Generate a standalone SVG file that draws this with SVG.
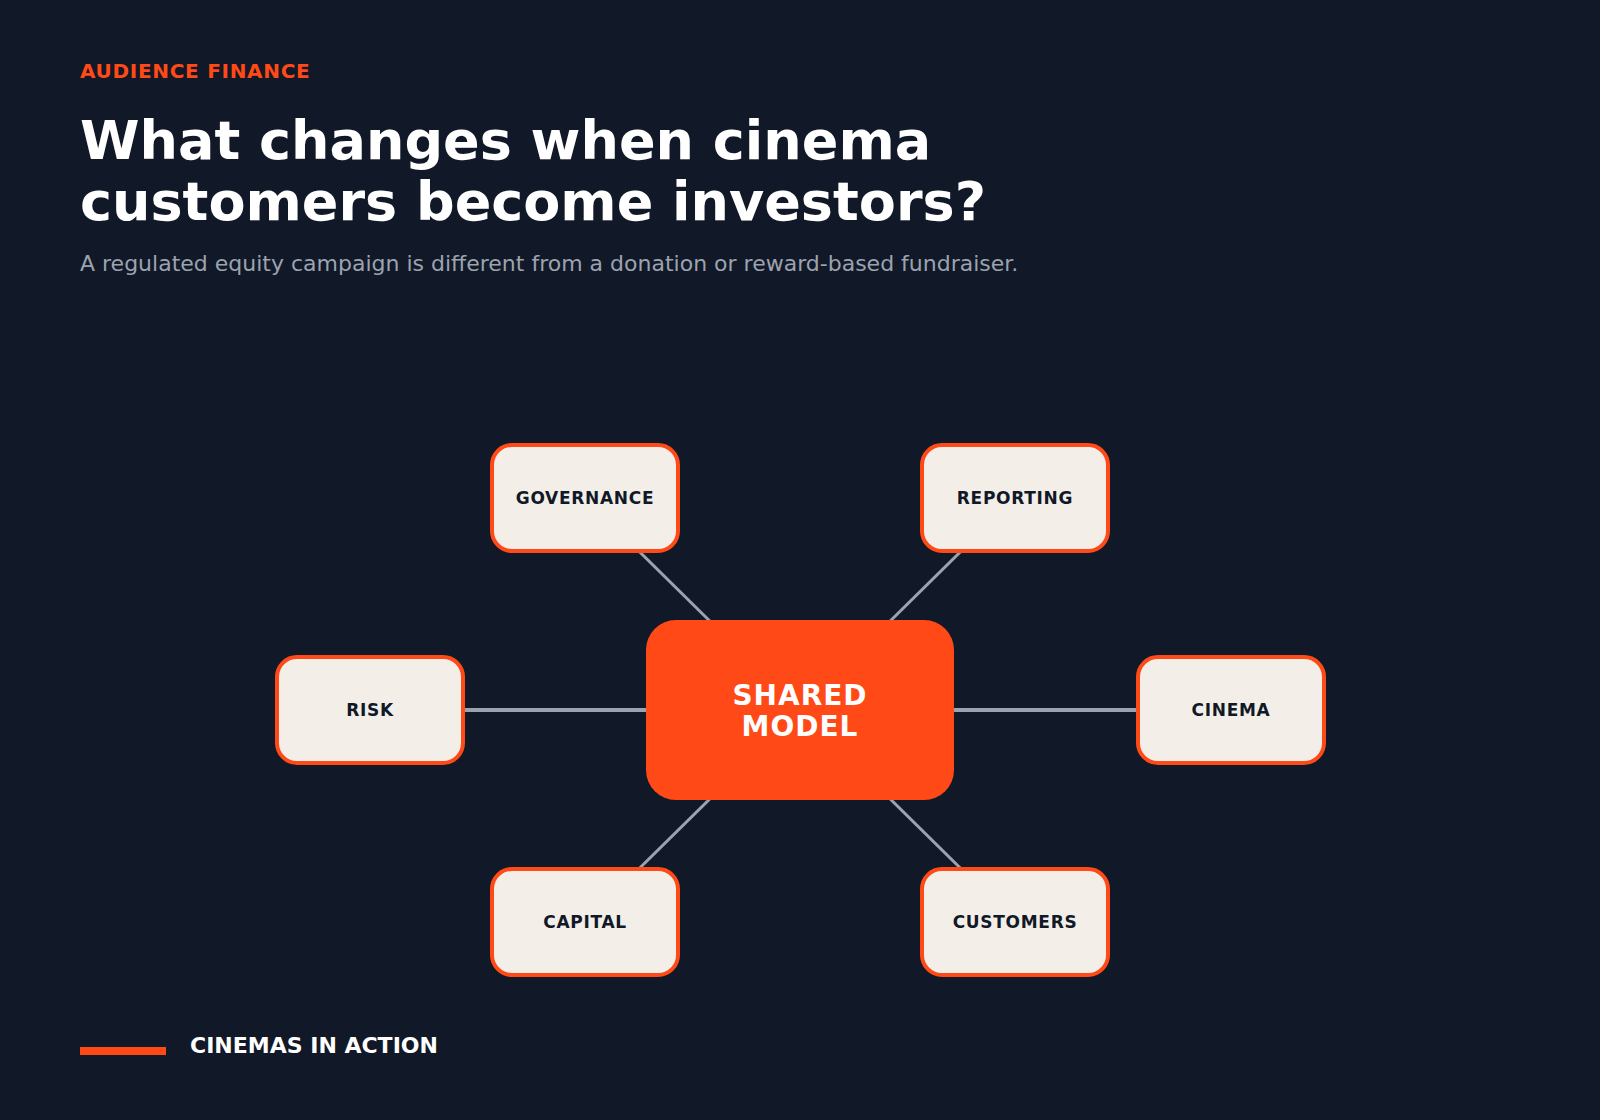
<svg xmlns="http://www.w3.org/2000/svg" width="1600" height="1120" viewBox="0 0 1600 1120">
  <defs>
    <style>
      .bg { fill: #111827; }
      .kicker { font-family: "DejaVu Sans", sans-serif; font-weight: bold; font-size: 20px; fill: #FF4A17; letter-spacing: 0.7px; }
      .title { font-family: "DejaVu Sans", sans-serif; font-weight: bold; font-size: 54px; fill: #FFFFFF; }
      .sub { font-family: "DejaVu Sans", sans-serif; font-size: 22px; fill: #9CA3AF; }
      .edge { stroke: #9CA3AF; stroke-width: 3; fill: none; }
      .edge.h { stroke-width: 4; }
      .node rect { fill: #F3EFE8; stroke: #FF4A17; stroke-width: 4; }
      .node text { font-family: "DejaVu Sans", sans-serif; font-weight: bold; font-size: 17px; fill: #111827; letter-spacing: 0.7px; text-anchor: middle; }
      .hub rect { fill: #FF4A17; }
      .hub text { font-family: "DejaVu Sans", sans-serif; font-weight: bold; font-size: 28px; fill: #FFFFFF; letter-spacing: 1px; text-anchor: middle; }
      .footer { font-family: "DejaVu Sans", sans-serif; font-weight: bold; font-size: 22px; fill: #FFFFFF; }
    </style>
  </defs>
  <rect class="bg" x="0" y="0" width="1600" height="1120"/>

  <text class="kicker" x="80" y="78">AUDIENCE FINANCE</text>
  <text class="title" x="80" y="159">What changes when cinema</text>
  <text class="title" x="80" y="220">customers become investors?</text>
  <text class="sub" x="80" y="271">A regulated equity campaign is different from a donation or reward-based fundraiser.</text>

  <g id="connectors">
    <line class="edge" x1="800" y1="710" x2="585" y2="498"/>
    <line class="edge" x1="800" y1="710" x2="1015" y2="498"/>
    <line class="edge h" x1="800" y1="710" x2="370" y2="710"/>
    <line class="edge h" x1="800" y1="710" x2="1231" y2="710"/>
    <line class="edge" x1="800" y1="710" x2="585" y2="922"/>
    <line class="edge" x1="800" y1="710" x2="1015" y2="922"/>
  </g>

  <g id="node-hub" class="hub">
    <rect x="646" y="620" width="308" height="180" rx="30"/>
    <text x="800" y="705">SHARED</text>
    <text x="800" y="736">MODEL</text>
  </g>

  <g id="node-governance" class="node">
    <rect x="492" y="445" width="186" height="106" rx="20"/>
    <text x="585" y="504">GOVERNANCE</text>
  </g>
  <g id="node-reporting" class="node">
    <rect x="922" y="445" width="186" height="106" rx="20"/>
    <text x="1015" y="504">REPORTING</text>
  </g>
  <g id="node-risk" class="node">
    <rect x="277" y="657" width="186" height="106" rx="20"/>
    <text x="370" y="716">RISK</text>
  </g>
  <g id="node-cinema" class="node">
    <rect x="1138" y="657" width="186" height="106" rx="20"/>
    <text x="1231" y="716">CINEMA</text>
  </g>
  <g id="node-capital" class="node">
    <rect x="492" y="869" width="186" height="106" rx="20"/>
    <text x="585" y="928">CAPITAL</text>
  </g>
  <g id="node-customers" class="node">
    <rect x="922" y="869" width="186" height="106" rx="20"/>
    <text x="1015" y="928">CUSTOMERS</text>
  </g>

  <rect x="80" y="1047" width="86" height="8" fill="#FF4A17"/>
  <text class="footer" x="190" y="1053">CINEMAS IN ACTION</text>
</svg>
